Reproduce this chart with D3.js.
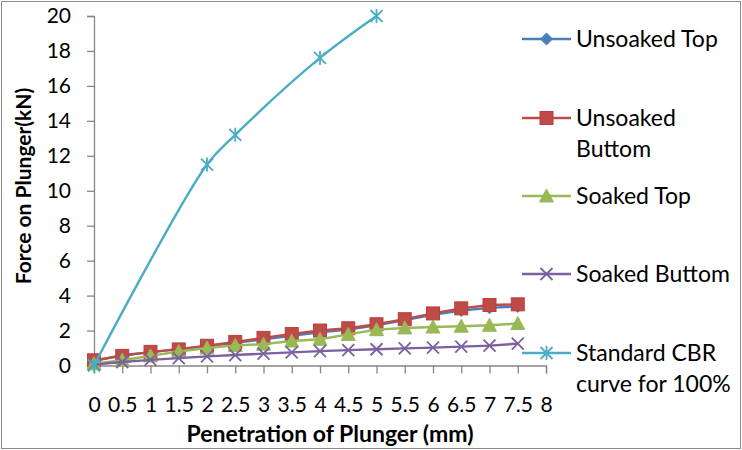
<!DOCTYPE html>
<html>
<head>
<meta charset="utf-8">
<script src="https://cdn.jsdelivr.net/npm/d3@7"></script>
<style>
  html, body { margin: 0; padding: 0; background: #fff; }
  svg { display: block; font-family: Lato, "Open Sans", sans-serif; }
</style>
</head>
<body>
<svg id="chart" width="742" height="450"></svg>
<script>
// Penetration (mm) at which each CBR reading was taken
const penetration = [0, 0.5, 1, 1.5, 2, 2.5, 3, 3.5, 4, 4.5, 5, 5.5, 6, 6.5, 7, 7.5];

// Force on plunger (kN) for each specimen
const unsoakedTop    = [0.25, 0.6, 0.75, 0.95, 1.1, 1.3, 1.5, 1.7, 1.9, 2.05, 2.3, 2.6, 2.9, 3.15, 3.3, 3.38];
const unsoakedBottom = [0.3, 0.55, 0.78, 0.92, 1.13, 1.35, 1.58, 1.8, 2.0, 2.13, 2.36, 2.65, 2.98, 3.27, 3.46, 3.5];
const soakedTop      = [0.1, 0.3, 0.55, 0.8, 1.0, 1.15, 1.22, 1.4, 1.5, 1.78, 2.05, 2.15, 2.2, 2.25, 2.3, 2.4];
const soakedBottom   = [0.05, 0.2, 0.32, 0.42, 0.52, 0.6, 0.68, 0.75, 0.82, 0.88, 0.93, 0.98, 1.02, 1.08, 1.14, 1.25];

// Standard load curve for 100% CBR
const standardPen   = [0, 2, 2.5, 4, 5];
const standardForce = [0, 11.5, 13.2, 17.6, 20];

const xTicks = d3.range(0, 8.01, 0.5);
const yTicks = d3.range(0, 20.01, 2);

const series = [
  { name: ["Unsoaked Top"],            x: penetration, y: unsoakedTop,    color: "#4A7EBB", marker: "diamond", smooth: false },
  { name: ["Unsoaked", "Buttom"],      x: penetration, y: unsoakedBottom, color: "#BE4B48", marker: "square",  smooth: false },
  { name: ["Soaked Top"],              x: penetration, y: soakedTop,      color: "#98B954", marker: "triangle", smooth: false },
  { name: ["Soaked Buttom"],           x: penetration, y: soakedBottom,   color: "#7D60A0", marker: "cross",   smooth: false },
  { name: ["Standard CBR", "curve for 100%"], x: standardPen, y: standardForce, color: "#4BACC6", marker: "star", smooth: true }
];

const svg = d3.select("#chart");

// chart-area frame
svg.append("rect")
  .attr("x", 1.5).attr("y", 1.5).attr("width", 739).attr("height", 447)
  .attr("fill", "#fff").attr("stroke", "#8c8c8c").attr("stroke-width", 1);

const x = d3.scaleLinear().domain([0, 8]).range([94, 546]);
const y = d3.scaleLinear().domain([0, 20]).range([365.5, 16]);

const axisColor = "#868686";

// y axis
const yAxis = svg.append("g")
  .attr("transform", `translate(${x(0)},0)`)
  .call(d3.axisLeft(y).tickValues(yTicks).tickSize(7).tickPadding(16).tickFormat(d3.format("d")));
yAxis.select(".domain").attr("stroke", axisColor).attr("stroke-width", 1.3);
yAxis.selectAll(".tick line").attr("stroke", axisColor).attr("stroke-width", 1.3);
yAxis.selectAll(".tick text").attr("font-size", 21).attr("fill", "#000")
  .attr("font-family", "Lato, sans-serif");

// x axis
const xAxis = svg.append("g")
  .attr("transform", `translate(0,${y(0)})`)
  .call(d3.axisBottom(x).tickValues(xTicks).tickSize(8).tickPadding(24).tickFormat(d => d3.format("~g")(d)));
xAxis.select(".domain").attr("stroke", axisColor).attr("stroke-width", 1.3);
xAxis.selectAll(".tick line").attr("stroke", axisColor).attr("stroke-width", 1.3);
xAxis.selectAll(".tick text").attr("font-size", 21).attr("fill", "#000")
  .attr("font-family", "Lato, sans-serif");

// axis titles
svg.append("text")
  .attr("x", 330).attr("y", 442)
  .attr("text-anchor", "middle")
  .attr("font-size", 23).attr("font-weight", "bold")
  .text("Penetration of Plunger (mm)");

svg.append("text")
  .attr("transform", "translate(31,186) rotate(-90)")
  .attr("text-anchor", "middle")
  .attr("font-size", 21).attr("font-weight", "bold")
  .text("Force on Plunger(kN)");

// marker drawing
function drawMarker(g, type, color) {
  if (type === "diamond") {
    g.append("path").attr("d", "M0,-6L6,0L0,6L-6,0Z").attr("fill", color).attr("stroke", color);
  } else if (type === "square") {
    g.append("rect").attr("x", -6.5).attr("y", -6.5).attr("width", 13).attr("height", 13)
      .attr("fill", color).attr("stroke", "#B9403D").attr("stroke-width", 1);
  } else if (type === "triangle") {
    g.append("path").attr("d", "M0,-7L7,6L-7,6Z").attr("fill", color).attr("stroke", color);
  } else if (type === "cross") {
    g.append("path").attr("d", "M-6,-6L6,6M6,-6L-6,6").attr("stroke", color).attr("stroke-width", 1.8).attr("fill", "none");
  } else if (type === "star") {
    g.append("path").attr("d", "M-6,-6L6,6M6,-6L-6,6M0,-7L0,7").attr("stroke", color).attr("stroke-width", 1.8).attr("fill", "none");
  }
}

// series lines and markers
series.forEach(s => {
  const pts = s.x.map((v, i) => [v, s.y[i]]);
  const line = d3.line().x(d => x(d[0])).y(d => y(d[1]))
    .curve(s.smooth ? d3.curveCatmullRom.alpha(0.5) : d3.curveLinear);
  svg.append("path").datum(pts)
    .attr("d", line)
    .attr("fill", "none").attr("stroke", s.color).attr("stroke-width", 2.4)
    .attr("stroke-linejoin", "round");
  pts.forEach(p => {
    const g = svg.append("g").attr("transform", `translate(${x(p[0])},${y(p[1])})`);
    drawMarker(g, s.marker, s.color);
  });
});

// legend
const legendRows = [39, 118, 196, 274, 353];
series.forEach((s, i) => {
  const cy = legendRows[i];
  const g = svg.append("g");
  g.append("line").attr("x1", 522).attr("x2", 571).attr("y1", cy).attr("y2", cy)
    .attr("stroke", s.color).attr("stroke-width", 2.4);
  const m = g.append("g").attr("transform", `translate(546.5,${cy})`);
  drawMarker(m, s.marker, s.color);
  s.name.forEach((t, j) => {
    g.append("text").attr("x", 576).attr("y", cy + 7.5 + j * 31)
      .attr("font-size", 23).attr("fill", "#000").text(t);
  });
});
</script>
</body>
</html>
